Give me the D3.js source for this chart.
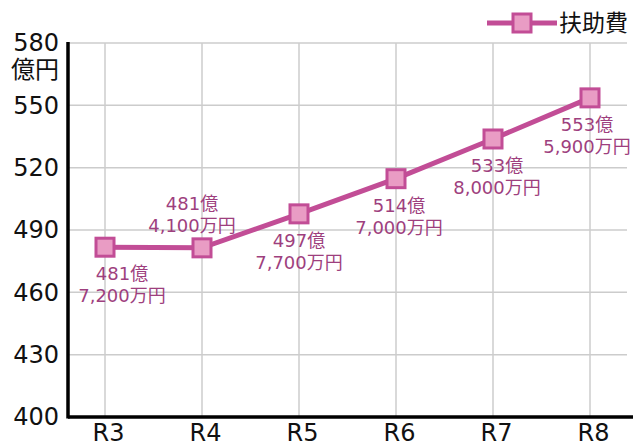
<!DOCTYPE html>
<html>
<head>
<meta charset="utf-8">
<script src="https://cdn.jsdelivr.net/npm/d3@7"></script>
<style>
  body { margin: 0; background: #fff; }
  svg { display: block; font-family: "DejaVu Sans", "Noto Sans CJK JP", sans-serif; }
</style>
</head>
<body>
<div id="chart"></div>
<script>
// data (億円)
const categories = ['R3', 'R4', 'R5', 'R6', 'R7', 'R8'];
const values = [481.72, 481.41, 497.77, 514.70, 533.80, 553.59];
const yTicks = [400, 430, 460, 490, 520, 550, 580];
const seriesName = '扶助費';
const labelSide = ['below', 'above', 'below', 'below', 'below', 'below'];

const width = 633, height = 446;
const fontFamily = '"DejaVu Sans", "Noto Sans CJK JP", sans-serif';
const lineColor = '#c24d96';
const fillColor = '#e99cc4';
const labelColor = '#9e3f7e';

const svg = d3.select('#chart').append('svg')
  .attr('width', width)
  .attr('height', height);

const x = d3.scalePoint()
  .domain(categories)
  .range([105, 590]);

const y = d3.scaleLinear()
  .domain([400, 580])
  .range([417, 43]);

// grid
svg.append('g')
  .selectAll('line')
  .data(yTicks)
  .enter().append('line')
    .attr('x1', 68).attr('x2', 627)
    .attr('y1', d => y(d)).attr('y2', d => y(d))
    .attr('stroke', '#cccccc')
    .attr('stroke-width', 1.5);

svg.append('g')
  .selectAll('line')
  .data(categories)
  .enter().append('line')
    .attr('x1', d => x(d)).attr('x2', d => x(d))
    .attr('y1', y(580)).attr('y2', y(400))
    .attr('stroke', '#cccccc')
    .attr('stroke-width', 1.5);

// y axis
const yAxis = svg.append('g')
  .attr('transform', 'translate(68,0)')
  .call(d3.axisLeft(y).tickValues(yTicks).tickSize(0).tickPadding(9));
yAxis.select('.domain').remove();
yAxis.selectAll('text')
  .style('font-size', '24px')
  .style('font-family', fontFamily)
  .attr('fill', '#111');

svg.append('text')
  .attr('x', 59)
  .attr('y', 78)
  .attr('text-anchor', 'end')
  .style('font-size', '24px')
  .attr('fill', '#111')
  .text('億円');

// x axis
const xAxis = svg.append('g')
  .attr('transform', `translate(0,${y(400)})`)
  .call(d3.axisBottom(x).tickSize(0).tickPadding(0));
xAxis.select('.domain').remove();
xAxis.selectAll('text')
  .attr('dx', 3)
  .attr('dy', 0)
  .attr('y', 24)
  .style('font-size', '24px')
  .style('font-family', fontFamily)
  .attr('fill', '#111');

svg.append('line')
  .attr('x1', 68).attr('x2', 633)
  .attr('y1', y(400)).attr('y2', y(400))
  .attr('stroke', '#000').attr('stroke-width', 3.5);
svg.append('line')
  .attr('x1', 68).attr('x2', 68)
  .attr('y1', y(580) - 1).attr('y2', y(400) + 1.5)
  .attr('stroke', '#000').attr('stroke-width', 3.5);

// line + markers
const points = categories.map((c, i) => ({ cat: c, value: values[i], side: labelSide[i] }));

svg.append('path')
  .datum(points)
  .attr('fill', 'none')
  .attr('stroke', lineColor)
  .attr('stroke-width', 5)
  .attr('d', d3.line().x(d => x(d.cat)).y(d => y(d.value)));

svg.append('g')
  .selectAll('rect')
  .data(points)
  .enter().append('rect')
    .attr('x', d => x(d.cat) - 9)
    .attr('y', d => y(d.value) - 9)
    .attr('width', 18)
    .attr('height', 18)
    .attr('fill', fillColor)
    .attr('stroke', lineColor)
    .attr('stroke-width', 3);

// data labels
const fmt = d3.format(',');
const labelDx = [17, -10, 0, 3, 4, -3];
const lbl = svg.append('g')
  .selectAll('text')
  .data(points)
  .enter().append('text')
    .attr('text-anchor', 'middle')
    .attr('fill', labelColor)
    .style('font-size', '18px')
    .attr('transform', (d, i) => {
      const ty = d.side === 'above' ? y(d.value) - 38 : y(d.value) + 33;
      return `translate(${x(d.cat) + labelDx[i]},${ty})`;
    });
lbl.append('tspan')
  .attr('x', 0).attr('y', 0)
  .text(d => Math.floor(d.value) + '億');
lbl.append('tspan')
  .attr('x', 0).attr('y', 22)
  .text(d => fmt(Math.round((d.value - Math.floor(d.value)) * 10000)) + '万円');

// legend
const lg = svg.append('g').attr('transform', 'translate(487,23)');
lg.append('line')
  .attr('x1', 0).attr('x2', 70)
  .attr('stroke', lineColor).attr('stroke-width', 5);
lg.append('rect')
  .attr('x', 26).attr('y', -9)
  .attr('width', 18).attr('height', 18)
  .attr('fill', fillColor)
  .attr('stroke', lineColor)
  .attr('stroke-width', 3);
lg.append('text')
  .attr('x', 72).attr('y', 8)
  .style('font-size', '23px')
  .attr('fill', '#111')
  .text(seriesName);
</script>
</body>
</html>
